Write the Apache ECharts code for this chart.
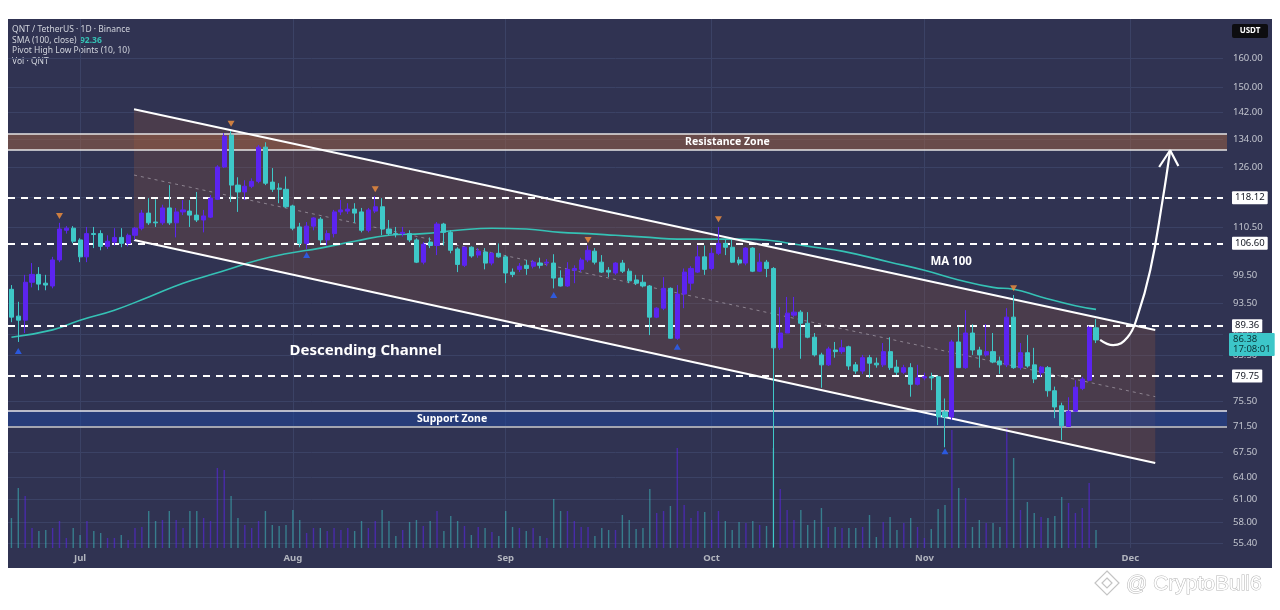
<!DOCTYPE html>
<html><head><meta charset="utf-8">
<script src="https://cdn.jsdelivr.net/npm/echarts@6/dist/echarts.min.js"></script>
<style>
html,body{margin:0;padding:0;background:#ffffff;}
#frame{position:absolute;left:8px;top:19px;width:1264px;height:549px;background:#303352;}
#c{position:absolute;left:0;top:0;width:1280px;height:610px;}
</style>
</head><body>
<div id="frame"></div>
<div id="c"></div>
<script>
// ---------------- DATA ----------------
const startDate = '2025-06-21';
const totalDays = 177; // Jun 21 .. Dec 14
// daily candles [open, close, low, high]
const candles = [
[96.5,90.8,89.8,97.4],[91.0,90.2,86.0,93.9],[90.2,98.0,87.7,99.6],[98.0,99.7,96.9,102.2],[99.7,97.6,96.3,101.3],
[97.8,97.4,96.3,99.6],[97.2,102.9,96.7,103.6],[102.9,110.1,102.4,111.6],[109.8,110.3,109.0,110.8],[110.3,107.2,106.7,110.8],
[107.5,103.6,102.4,107.9],[103.6,109.0,102.4,110.6],[109.0,108.8,105.6,110.6],[109.0,106.0,105.1,109.8],[106.0,107.2,105.4,108.6],
[107.0,108.1,106.2,110.3],[108.1,106.7,105.8,110.3],[106.7,108.6,106.0,109.0],[108.6,110.3,107.5,110.6],[110.3,114.0,109.8,114.8],
[114.0,111.6,111.1,117.8],[111.8,111.6,110.6,117.5],[111.6,115.3,111.1,116.1],[115.3,111.6,111.1,121.2],[111.6,114.3,108.1,115.3],
[114.3,114.8,113.5,117.3],[114.5,113.5,110.6,117.3],[113.5,112.3,111.8,119.4],[112.3,113.3,109.3,114.8],[113.0,117.8,112.8,118.6],
[117.5,126.1,117.3,126.6],[126.1,134.9,125.8,135.8],[135.2,121.2,116.8,136.4],[121.2,119.4,114.3,123.3],[119.4,120.9,117.3,122.5],
[120.9,122.2,120.4,123.0],[122.2,131.7,121.7,132.3],[131.7,121.7,121.2,133.1],[122.0,120.1,119.4,125.8],[120.4,120.1,116.5,121.7],
[120.1,115.6,115.3,123.5],[115.8,110.3,109.8,116.1],[110.6,106.7,105.8,111.6],[106.7,110.8,105.4,111.8],[110.8,112.8,109.8,113.0],
[112.5,107.5,106.7,113.0],[107.5,109.0,106.2,109.8],[109.0,114.3,108.1,114.8],[114.3,114.8,113.5,117.3],[114.5,115.0,113.8,116.5],
[115.0,114.0,111.6,116.5],[114.3,109.8,109.3,115.3],[109.8,114.8,109.3,115.3],[114.5,115.6,114.0,118.3],[115.6,110.1,108.6,117.8],
[110.1,109.0,108.6,112.3],[109.0,108.8,108.1,110.6],[109.0,109.3,108.3,110.6],[109.0,107.5,107.0,109.8],[107.5,102.4,102.2,107.9],
[102.4,106.5,101.9,107.0],[107.0,106.2,105.6,108.1],[106.2,111.3,104.0,111.8],[111.3,109.3,106.2,111.6],[109.3,105.1,104.4,109.8],
[105.4,101.9,100.2,105.8],[101.7,105.8,101.3,106.0],[105.8,103.8,103.4,106.0],[104.0,104.9,103.4,105.6],[104.7,102.2,100.8,105.6],
[102.2,104.4,101.7,104.7],[104.4,103.6,103.4,106.7],[103.6,100.0,97.8,104.0],[100.2,99.7,99.1,101.0],[100.8,101.5,100.2,102.2],
[101.7,101.0,99.6,102.9],[101.5,102.4,101.0,102.9],[102.2,101.7,101.0,103.4],[102.2,102.4,101.5,103.1],[102.2,98.9,96.7,104.2],
[98.9,97.2,97.1,100.6],[97.2,100.8,97.0,102.4],[100.6,101.0,97.8,101.7],[100.8,102.9,100.2,103.4],[102.9,105.1,102.4,106.2],
[104.9,102.4,101.9,105.6],[102.4,100.2,100.0,104.0],[100.6,100.2,99.1,101.3],[100.0,102.2,99.6,102.4],[102.2,100.4,100.0,102.9],
[100.4,98.3,97.8,101.0],[98.5,97.8,97.4,99.6],[98.0,97.2,96.9,99.6],[97.2,90.8,87.3,97.4],[90.8,92.6,90.6,92.8],
[92.6,96.7,92.2,99.1],[96.7,86.7,86.6,96.9],[86.7,95.5,86.4,97.4],[95.5,100.2,92.6,101.0],[97.8,101.0,96.3,101.5],
[100.2,103.6,100.0,106.2],[103.6,100.8,99.6,106.2],[101.0,104.4,100.6,105.6],[104.4,106.7,104.0,110.6],[106.7,105.8,104.0,107.5],
[105.8,102.4,102.2,107.5],[102.9,102.2,101.7,103.6],[102.2,105.6,101.7,105.8],[105.6,100.4,100.2,105.8],[100.4,102.4,100.2,104.4],
[102.4,101.0,99.1,102.9],[101.0,84.9,54.9,101.3],[84.9,87.7,84.5,92.8],[87.7,91.6,87.7,94.9],[91.2,91.8,90.8,94.9],
[91.8,89.6,82.9,92.2],[89.6,86.9,86.7,91.8],[86.9,83.6,83.3,87.7],[83.6,81.8,77.8,84.0],[81.8,84.7,81.6,85.1],
[84.5,84.2,83.1,86.0],[84.2,84.9,83.8,86.4],[85.1,81.6,80.9,85.3],[81.8,80.7,80.2,82.3],[80.7,83.1,80.2,83.6],
[83.1,82.1,79.5,83.6],[82.1,81.8,81.3,83.1],[81.8,84.2,81.4,85.8],[84.2,81.3,80.9,86.9],[81.4,80.5,80.0,82.7],
[80.5,81.3,80.2,81.8],[81.3,78.4,76.3,82.1],[78.4,79.5,78.2,81.8],[79.5,79.7,79.1,80.4],[79.7,79.5,77.4,80.4],
[79.7,73.0,71.7,79.9],[73.8,73.0,68.3,76.0],[73.0,86.0,72.5,86.4],[86.0,81.3,81.3,88.9],[81.3,87.7,81.1,92.2],
[87.7,84.5,83.6,89.4],[84.5,83.6,81.3,85.1],[83.6,84.2,83.3,89.4],[84.2,82.3,82.1,87.7],[82.5,81.8,80.2,83.3],
[81.8,90.8,81.4,92.6],[90.8,81.3,81.1,95.3],[81.3,84.0,80.9,85.8],[84.0,81.6,81.3,87.3],[81.8,79.3,78.6,84.9],
[80.4,81.4,79.7,81.6],[81.3,77.3,76.3,81.6],[77.3,74.6,72.8,78.0],[74.8,71.6,69.4,75.3],[71.5,73.9,71.4,76.2],
[73.9,77.9,73.8,79.1],[77.7,79.3,77.4,79.7],[79.1,88.8,78.9,89.1],[88.7,86.38,85.8,90.4]
];
const volumes = [
30,60,52,20,17,18,20,27,10,20,13,27,17,15,10,10,13,8,20,21,
37,27,28,37,28,20,37,37,30,27,80,78,52,30,23,20,27,37,23,22,
23,38,28,15,20,20,17,20,18,20,17,27,20,27,38,27,12,18,26,28,
22,27,37,17,32,27,22,13,21,20,16,12,37,21,20,17,20,12,10,49,
37,37,27,21,21,12,20,18,18,33,28,19,20,59,35,37,42,100,43,30,
37,36,28,37,27,18,26,25,27,23,22,100,59,38,28,38,23,28,40,21,
21,20,20,20,21,33,11,26,31,18,25,30,21,10,19,39,43,118,60,50,
21,28,25,25,21,120,90,38,46,35,31,30,32,51,45,35,40,65,18
];
// SMA(100) readings [dayIndex, value]
const maPoints = [
[0,86.9],[6,88.3],[10,90.2],[15,92.2],[20,94.9],[25,97.8],[29,99.6],[32,101.0],[36,102.9],[40,104.3],
[45,105.6],[50,107.2],[55,108.6],[60,109.0],[65,109.8],[70,110.3],[75,110.1],[80,109.3],[84,109.0],[88,108.6],
[93,108.1],[97,107.7],[102,107.7],[107,107.7],[110,107.5],[113,106.8],[117,105.8],[121,104.9],[128,102.4],[133,100.6],
[138,98.5],[143,96.9],[146,96.5],[150,94.9],[155,93.1],[158,92.36]
];
const pivotHighs = [[7,113.3],[32,138.6],[53,120.1],[84,107.5],[103,112.5],[146,96.7]];
const pivotLows = [[1,84.3],[43,104.0],[79,95.3],[97,85.1],[136,67.7]];
const priceTicks = [160,150,142,134,126,118,110.5,99.5,93.5,87.5,83.5,75.5,71.5,67.5,64,61,58,55.4];
const monthTicks = [10,41,72,102,133,163];
const monthNames = ['Jul','Aug','Sep','Oct','Nov','Dec'];
const levels = [118.12,106.60,89.36,79.75];
const lastPrice = 86.38;
const countdown = '17:08:01';
const smaLast = '92.36';
const resistanceZone = [135.5,130.9];
const supportZone = [73.94,71.4];
const channelUpper = [[17.86,143.1],[166.63,88.27]];
const channelLower = [[17.86,107.5],[166.63,66.0]];
const channelMid = [[17.86,123.9],[166.63,76.3]];
const arrowPath = [[158.6,86.4],[160.5,85.4],[162.6,86.9],[164.0,90.8],[165.9,100.6],[167.7,117.3],[168.8,130.8]];
const arrowHead = [[167.2,126.1],[168.8,130.8],[170.0,126.4]];
const annotationText = ['Resistance Zone','Support Zone','Descending Channel','MA 100'];
const annotationX = [104.3,64.2,51.6,136.9];
const annotationY = [133.1,72.7,84.3,102.4];
const priceMin = 54.8, priceMax = 174.3;

// ---------------- BUILD ----------------
const L = Math.log;
const categories = [];
(function(){
  const d0 = new Date(startDate + 'T00:00:00Z');
  for (let i = 0; i < totalDays; i++) {
    categories.push(new Date(d0.getTime() + i * 86400000).toISOString().slice(0,10));
  }
})();

const UP = '#5c24f0', DOWN = '#3ec8c8';
const GRID = '#3b4265';
const FONT = '"Noto Sans", "DejaVu Sans", sans-serif';
const annotationSize = [10.5,10.5,15,11.5];

const chart = echarts.init(document.getElementById('c'), null, {renderer:'canvas'});

const zoneStyles = [
  {fill:'rgba(175,105,65,0.45)', top:'#e6e6e6', bottom:'#e6e6e6', bw:1.5},
  {fill:'rgba(30,70,160,0.5)', top:'#e8e8ee', bottom:'#a3a5b0', bw:2}
];

const option = {
  backgroundColor: 'transparent',
  animation: false,
  grid: [{left:8, top:19, right:57, bottom:62, outerBoundsMode:'none'}],
  xAxis: [
    {type:'category', data:categories, boundaryGap:true, show:false},
    {type:'value', min:-0.5, max:totalDays-0.5, position:'bottom',
     axisLine:{show:false}, axisTick:{show:false, customValues:monthTicks},
     axisLabel:{customValues:monthTicks, color:'#b2b5be', fontSize:9.5, fontWeight:'bold', fontFamily:FONT, margin:5,
       formatter:function(v){ const k = monthTicks.indexOf(Math.round(v)); return k>=0 ? monthNames[k] : ''; }},
     splitLine:{show:true, lineStyle:{color:GRID, width:1}}}
  ],
  yAxis: [
    {type:'value', min:L(priceMin), max:L(priceMax), position:'right', scale:true,
     axisLine:{show:false}, axisTick:{show:false, customValues:priceTicks.map(L)},
     axisLabel:{customValues:priceTicks.map(L), color:'#c3c6cf', fontSize:9.5, fontFamily:FONT, margin:10,
       formatter:function(v){ return Math.exp(v).toFixed(2); }},
     splitLine:{show:true, lineStyle:{color:GRID, width:1}}},
    {type:'value', min:0, max:529, show:false}
  ],
  series: [
    { // channel fill
      type:'custom', xAxisIndex:1, yAxisIndex:0, z:1, silent:true,
      data:[[channelUpper[0][0], L(channelUpper[0][1])]],
      renderItem:function(params, api){
        const pts = channelUpper.concat(channelLower.slice().reverse()).map(p => api.coord([p[0], L(p[1])]));
        return {type:'polygon', shape:{points:pts}, style:{fill:'rgba(150,90,60,0.26)'}};
      }
    },
    { // zones
      type:'custom', xAxisIndex:1, yAxisIndex:0, z:1, silent:true,
      data:[[0, L(resistanceZone[0]), L(resistanceZone[1])],[0, L(supportZone[0]), L(supportZone[1])]],
      renderItem:function(params, api){
        const cs = params.coordSys;
        const s = zoneStyles[params.dataIndex];
        const y1 = api.coord([0, api.value(1)])[1];
        const y2 = api.coord([0, api.value(2)])[1];
        const x1 = cs.x, x2 = cs.x + cs.width + 4;
        return {type:'group', children:[
          {type:'rect', shape:{x:x1, y:y1, width:x2-x1, height:y2-y1}, style:{fill:s.fill}},
          {type:'line', shape:{x1:x1, y1:y1, x2:x2, y2:y1}, style:{stroke:s.top, lineWidth:1.5}},
          {type:'line', shape:{x1:x1, y1:y2, x2:x2, y2:y2}, style:{stroke:s.bottom, lineWidth:s.bw}}
        ]};
      }
    },
    { // volume
      type:'bar', xAxisIndex:0, yAxisIndex:1, z:2, barWidth:1.4, silent:true,
      data: volumes.map((v,i) => ({value:v, itemStyle:{color: candles[i][1] >= candles[i][0] ? 'rgba(92,36,240,0.55)' : 'rgba(62,200,200,0.5)'}}))
    },
    { // MA 100
      type:'line', xAxisIndex:1, yAxisIndex:0, z:3, smooth:0.5, showSymbol:false, silent:true,
      data: maPoints.map(p => [p[0], L(p[1])]),
      lineStyle:{color:'#35c2b5', width:1.6},
      markLine:{
        silent:true, symbol:['none','none'], animation:false,
        lineStyle:{color:'#ffffff', type:[7,6], width:2},
        label:{position:'end', distance:9, backgroundColor:'#ffffff', color:'#131722', padding:[2,3,1,3],
               fontSize:9.5, fontFamily:FONT, borderRadius:1},
        data: [
          {yAxis:L(lastPrice), lineStyle:{color:'rgba(0,0,0,0)', width:0.5, type:'solid'},
           label:{formatter: lastPrice.toFixed(2) + '\n' + countdown, backgroundColor:'#3cc6c9', color:'#0b3336',
                  lineHeight:10, padding:[2,4,1,4], fontSize:9.5, distance:6, offset:[0,5]}}
        ].concat(levels.map(v => ({yAxis:L(v), label:{formatter:v.toFixed(2)}})))
      }
    },
    { // channel upper
      type:'line', xAxisIndex:1, yAxisIndex:0, z:4, showSymbol:false, silent:true,
      data: channelUpper.map(p => [p[0], L(p[1])]), lineStyle:{color:'#ffffff', width:2}
    },
    { // channel lower
      type:'line', xAxisIndex:1, yAxisIndex:0, z:4, showSymbol:false, silent:true,
      data: channelLower.map(p => [p[0], L(p[1])]), lineStyle:{color:'#ffffff', width:2}
    },
    { // channel middle
      type:'line', xAxisIndex:1, yAxisIndex:0, z:4, showSymbol:false, silent:true,
      data: channelMid.map(p => [p[0], L(p[1])]), lineStyle:{color:'rgba(185,178,188,0.6)', width:1, type:[3,4]}
    },
    { // candles
      type:'candlestick', xAxisIndex:0, yAxisIndex:0, z:5, barWidth:4.6, silent:true,
      data: candles.map(c => c.map(L)),
      itemStyle:{color:UP, color0:DOWN, borderColor:UP, borderColor0:DOWN, borderWidth:1}
    },
    { // pivot highs
      type:'scatter', xAxisIndex:0, yAxisIndex:0, z:6, silent:true,
      symbol:'triangle', symbolRotate:180, symbolSize:[7,6],
      itemStyle:{color:'#f5913c'},
      data: pivotHighs.map(p => [p[0], L(p[1])])
    },
    { // pivot lows
      type:'scatter', xAxisIndex:0, yAxisIndex:0, z:6, silent:true,
      symbol:'triangle', symbolSize:[7,6],
      itemStyle:{color:'#2962ff'},
      data: pivotLows.map(p => [p[0], L(p[1])])
    },
    { // arrow path
      type:'line', xAxisIndex:1, yAxisIndex:0, z:7, showSymbol:false, silent:true, smooth:0.45,
      data: arrowPath.map(p => [p[0], L(p[1])]), lineStyle:{color:'#ffffff', width:2.2}
    },
    { // arrow head
      type:'line', xAxisIndex:1, yAxisIndex:0, z:7, showSymbol:false, silent:true,
      data: arrowHead.map(p => [p[0], L(p[1])]), lineStyle:{color:'#ffffff', width:2.2}
    },
    { // annotations
      type:'custom', xAxisIndex:1, yAxisIndex:0, z:8, silent:true,
      data: annotationX.map((x,i) => [x, L(annotationY[i])]),
      renderItem:function(params, api){
        const p = api.coord([api.value(0), api.value(1)]);
        const i = params.dataIndex;
        return {type:'text', x:p[0], y:p[1], style:{
          text:annotationText[i], fill:'#ffffff',
          font:'bold ' + annotationSize[i] + 'px ' + FONT,
          align:'center', verticalAlign:'middle', textAlign:'center', textVerticalAlign:'middle'}};
      }
    }
  ],
  graphic: [
    {type:'text', x:12, y:30, style:{text:'QNT / TetherUS · 1D · Binance', fill:'#d1d4dc', font:'8.5px ' + FONT, verticalAlign:'middle', textVerticalAlign:'middle'}},
    {type:'text', x:12, y:40.5, style:{text:'SMA (100, close)', fill:'#d1d4dc', font:'8.5px ' + FONT, verticalAlign:'middle', textVerticalAlign:'middle'}},
    {type:'text', x:80, y:40.5, style:{text:smaLast, fill:'#35c2b5', font:'bold 8.5px ' + FONT, verticalAlign:'middle', textVerticalAlign:'middle'}},
    {type:'text', x:12, y:51, style:{text:'Pivot High Low Points (10, 10)', fill:'#d1d4dc', font:'8.5px ' + FONT, verticalAlign:'middle', textVerticalAlign:'middle'}},
    {type:'text', x:12, y:61.5, style:{text:'Vol · QNT', fill:'#d1d4dc', font:'8.5px ' + FONT, verticalAlign:'middle', textVerticalAlign:'middle'}},
    {type:'rect', shape:{x:1232, y:24, width:36, height:14, r:2}, style:{fill:'#0d0d10'}},
    {type:'text', x:1250, y:31, style:{text:'USDT', fill:'#ffffff', font:'bold 8px ' + FONT, align:'center', verticalAlign:'middle', textAlign:'center', textVerticalAlign:'middle'}},
    {type:'polygon', shape:{points:[[1107,571],[1119,583],[1107,595],[1095,583]]}, style:{fill:'none', stroke:'#c4c4c4', lineWidth:1.2}},
    {type:'polygon', shape:{points:[[1107,578],[1112,583],[1107,588],[1102,583]]}, style:{fill:'none', stroke:'#c4c4c4', lineWidth:1.2}},
    {type:'text', x:1126, y:584, style:{text:'@ CryptoBull6', fill:'#ffffff', stroke:'#b4b4b4', lineWidth:1, font:'21px "Liberation Sans", sans-serif', verticalAlign:'middle', textVerticalAlign:'middle'}}
  ]
};
chart.setOption(option);
</script>
</body></html>
